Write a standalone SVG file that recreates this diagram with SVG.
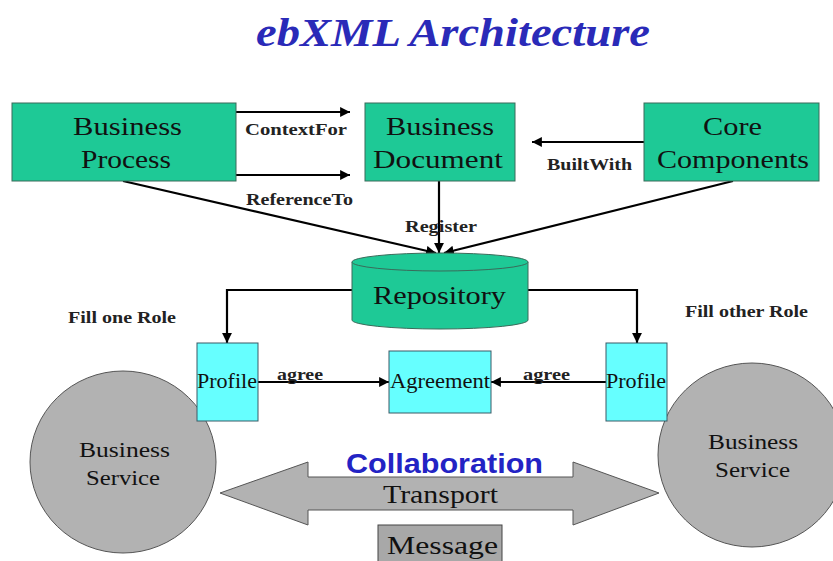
<svg xmlns="http://www.w3.org/2000/svg" width="833" height="561" viewBox="0 0 833 561">
  <style>
    .green { fill: #1ec996; stroke: #3a6b5a; stroke-width: 1; }
    .cyan { fill: #66ffff; stroke: #3a5a66; stroke-width: 1; }
    .grey { fill: #b2b2b2; stroke: #555; stroke-width: 1; }
    .box-text { font-family: "Liberation Serif", "Times New Roman", serif; font-size: 26px; fill: #111; text-anchor: start; }
    .small-text { font-family: "Liberation Serif", "Times New Roman", serif; font-size: 21px; fill: #111; }
    .label { font-family: "Liberation Serif", "Times New Roman", serif; font-size: 16px; font-weight: bold; fill: #222; }
    .conn { stroke: #000; stroke-width: 2.2; fill: none; }
  </style>
  <defs>
    <marker id="arrow" viewBox="0 0 10 10" refX="10" refY="5" markerWidth="4.5" markerHeight="4.5" orient="auto" markerUnits="strokeWidth">
      <path d="M0,0 L10,5 L0,10 z" fill="#000"/>
    </marker>
  </defs>

  <rect width="833" height="561" fill="#ffffff"/>

  <!-- title -->
  <text x="256" y="46" font-family="Liberation Serif, Times New Roman, serif" font-size="40" font-weight="bold" font-style="italic" fill="#2a2ab8" textLength="394" lengthAdjust="spacingAndGlyphs">ebXML Architecture</text>

  <!-- connectors -->
  <g id="connectors">
    <line class="conn" x1="236" y1="112" x2="350" y2="112" marker-end="url(#arrow)"/>
    <line class="conn" x1="236" y1="175" x2="350" y2="175" marker-end="url(#arrow)"/>
    <line class="conn" x1="644" y1="142" x2="532" y2="142" marker-end="url(#arrow)"/>
    <line class="conn" x1="123" y1="181" x2="436" y2="253" marker-end="url(#arrow)"/>
    <line class="conn" x1="439" y1="181" x2="439" y2="253" marker-end="url(#arrow)"/>
    <line class="conn" x1="733" y1="181" x2="444" y2="253" marker-end="url(#arrow)"/>
    <polyline class="conn" points="352,290 227,290 227,343" marker-end="url(#arrow)"/>
    <polyline class="conn" points="528,290 637,290 637,343" marker-end="url(#arrow)"/>
    <line class="conn" x1="258" y1="382" x2="389" y2="382" marker-end="url(#arrow)"/>
    <line class="conn" x1="606" y1="382" x2="491" y2="382" marker-end="url(#arrow)"/>

    <text class="label" x="245" y="135" textLength="102" lengthAdjust="spacingAndGlyphs">ContextFor</text>
    <text class="label" x="246" y="205" textLength="107" lengthAdjust="spacingAndGlyphs">ReferenceTo</text>
    <text class="label" x="547" y="170" textLength="85" lengthAdjust="spacingAndGlyphs">BuiltWith</text>
    <text class="label" x="405" y="232" textLength="72" lengthAdjust="spacingAndGlyphs">Register</text>
    <text class="label" x="277" y="380" font-size="18" textLength="46" lengthAdjust="spacingAndGlyphs">agree</text>
    <text class="label" x="523" y="380" font-size="18" textLength="47" lengthAdjust="spacingAndGlyphs">agree</text>
  </g>

  <!-- Business Process -->
  <g id="business-process">
    <rect class="green" x="12" y="103" width="224" height="78"/>
    <text class="box-text" x="73" y="135" textLength="109" lengthAdjust="spacingAndGlyphs">Business</text>
    <text class="box-text" x="81" y="168" textLength="90" lengthAdjust="spacingAndGlyphs">Process</text>
  </g>

  <!-- Business Document -->
  <g id="business-document">
    <rect class="green" x="365" y="103" width="150" height="78"/>
    <text class="box-text" x="386" y="135" textLength="108" lengthAdjust="spacingAndGlyphs">Business</text>
    <text class="box-text" x="373" y="168" textLength="130" lengthAdjust="spacingAndGlyphs">Document</text>
  </g>

  <!-- Core Components -->
  <g id="core-components">
    <rect class="green" x="644" y="103" width="175" height="78"/>
    <text class="box-text" x="703" y="135" textLength="59" lengthAdjust="spacingAndGlyphs">Core</text>
    <text class="box-text" x="657" y="168" textLength="152" lengthAdjust="spacingAndGlyphs">Components</text>
  </g>

  <!-- Repository (cylinder) -->
  <g id="repository">
    <path class="green" d="M352,262 L352,320 A88,9 0 0 0 528,320 L528,262"/>
    <ellipse class="green" cx="440" cy="262" rx="88" ry="9"/>
    <text class="box-text" x="373" y="304" textLength="133" lengthAdjust="spacingAndGlyphs">Repository</text>
  </g>

  <!-- role labels -->
  <g id="role-labels">
    <text class="label" x="68" y="323" textLength="108" lengthAdjust="spacingAndGlyphs">Fill one Role</text>
    <text class="label" x="685" y="317" textLength="123" lengthAdjust="spacingAndGlyphs">Fill other Role</text>
  </g>

  <!-- Business Service (left) -->
  <g id="business-service-left">
    <ellipse class="grey" cx="123" cy="462" rx="93" ry="91"/>
    <text class="small-text" x="79" y="457" textLength="91" lengthAdjust="spacingAndGlyphs">Business</text>
    <text class="small-text" x="86" y="485" textLength="74" lengthAdjust="spacingAndGlyphs">Service</text>
  </g>

  <!-- Business Service (right) -->
  <g id="business-service-right">
    <ellipse class="grey" cx="752" cy="455" rx="94" ry="92"/>
    <text class="small-text" x="708" y="449" textLength="90" lengthAdjust="spacingAndGlyphs">Business</text>
    <text class="small-text" x="715" y="477" textLength="75" lengthAdjust="spacingAndGlyphs">Service</text>
  </g>

  <!-- Profiles -->
  <g id="profile-left">
    <rect class="cyan" x="197" y="343" width="61" height="78"/>
    <text class="small-text" x="197" y="388" textLength="60" lengthAdjust="spacingAndGlyphs">Profile</text>
  </g>
  <g id="profile-right">
    <rect class="cyan" x="606" y="343" width="61" height="78"/>
    <text class="small-text" x="606" y="388" textLength="60" lengthAdjust="spacingAndGlyphs">Profile</text>
  </g>

  <!-- Agreement -->
  <g id="agreement">
    <rect class="cyan" x="389" y="351" width="102" height="62"/>
    <text class="small-text" x="390" y="388" textLength="100" lengthAdjust="spacingAndGlyphs">Agreement</text>
  </g>

  <!-- Transport double arrow -->
  <g id="transport">
    <polygon class="grey" points="220,493 308,462 308,477 573,477 573,462 659,493 573,525 573,510 308,510 308,525"/>
    <text x="346" y="473" font-family="Liberation Sans, Arial, sans-serif" font-size="27" font-weight="bold" fill="#2323c4" textLength="197" lengthAdjust="spacingAndGlyphs">Collaboration</text>
    <text class="box-text" x="383" y="503" textLength="115" lengthAdjust="spacingAndGlyphs">Transport</text>
  </g>

  <!-- Message -->
  <g id="message">
    <rect x="378" y="525" width="124" height="40" fill="#a8a8a8" stroke="#444" stroke-width="1"/>
    <text class="box-text" x="387" y="554" font-size="24" textLength="111" lengthAdjust="spacingAndGlyphs">Message</text>
  </g>
</svg>
